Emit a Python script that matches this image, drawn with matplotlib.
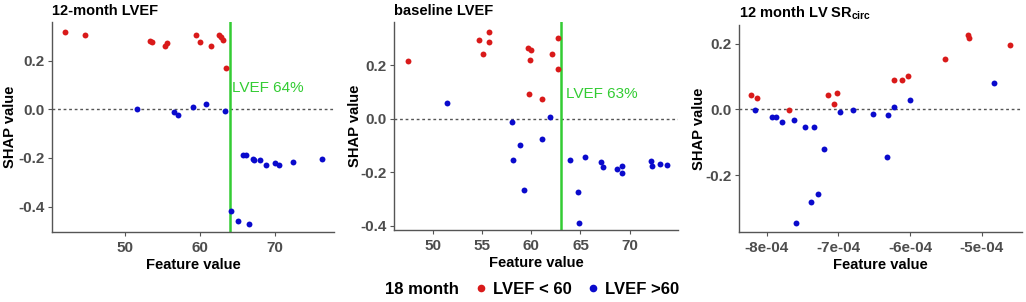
import matplotlib
matplotlib.use("Agg")
import matplotlib.pyplot as plt
from matplotlib.lines import Line2D

plt.rcParams['font.family'] = ['Liberation Sans', 'DejaVu Sans']
plt.rcParams['mathtext.default'] = 'regular'

RED = '#D91A1A'
BLUE = '#0A0ACC'
GREEN = '#33CC33'
TICK_GREY = '#4D4D4D'

# Panel 1: 12-month LVEF
p1_red_x = [41.9, 44.6, 53.3, 53.6, 55.3, 55.6, 59.4, 60.0, 61.4, 62.5, 62.8, 63.0, 63.5]
p1_red_y = [0.319, 0.305, 0.280, 0.276, 0.262, 0.273, 0.305, 0.276, 0.263, 0.305, 0.298, 0.287, 0.172]
p1_blue_x = [51.6, 56.5, 57.0, 59.0, 60.8, 63.3, 64.1, 65.1, 66.5, 65.7, 66.2, 67.1, 67.2,
             68.0, 68.8, 70.0, 70.5, 72.4, 76.3]
p1_blue_y = [0.003, -0.011, -0.022, 0.008, 0.021, -0.007, -0.419, -0.461, -0.470, -0.189, -0.189,
             -0.204, -0.207, -0.210, -0.230, -0.221, -0.230, -0.217, -0.206]
p1_cut = 64
p1_xticks = [50, 60, 70]
p1_yticks = [-0.4, -0.2, 0.0, 0.2]

# Panel 2: baseline LVEF
p2_red_x = [47.5, 54.7, 55.1, 55.7, 55.7, 59.7, 60.0, 59.9, 59.8, 61.1, 62.1, 62.7, 62.7]
p2_red_y = [0.217, 0.293, 0.241, 0.322, 0.287, 0.263, 0.256, 0.221, 0.091, 0.075, 0.241, 0.302, 0.186]
p2_blue_x = [51.5, 58.0, 58.2, 58.9, 59.3, 61.1, 61.9, 63.9, 64.7, 64.8, 65.5, 67.1, 67.3,
             68.7, 69.2, 69.2, 72.2, 72.3, 73.1, 73.8]
p2_blue_y = [0.060, -0.012, -0.152, -0.098, -0.266, -0.075, 0.006, -0.155, -0.273, -0.389, -0.144,
             -0.160, -0.181, -0.186, -0.175, -0.201, -0.159, -0.175, -0.170, -0.174]
p2_cut = 63
p2_xticks = [50, 55, 60, 65, 70]
p2_yticks = [-0.4, -0.2, 0.0, 0.2]

# Panel 3: 12 month LV SRcirc (x in units of 1e-4)
p3_red_x = [-8.214, -8.130, -7.688, -7.140, -7.056, -7.023, -6.219, -6.107, -6.033, -5.507,
            -5.186, -5.181, -4.609]
p3_red_y = [0.044, 0.034, -0.001, 0.044, 0.018, 0.049, 0.089, 0.089, 0.101, 0.155, 0.226, 0.217, 0.195]
p3_blue_x = [-8.163, -7.930, -7.874, -7.791, -7.623, -7.595, -7.470, -7.386, -7.335, -7.279,
             -7.205, -6.977, -6.791, -6.516, -6.307, -6.316, -6.228, -6.005, -4.837]
p3_blue_y = [-0.001, -0.023, -0.023, -0.038, -0.031, -0.346, -0.054, -0.281, -0.054, -0.256,
             -0.120, -0.008, -0.002, -0.013, -0.018, -0.145, 0.008, 0.029, 0.079]
p3_xticks = [-8, -7, -6, -5]
p3_xticklabels = ['-8e-04', '-7e-04', '-6e-04', '-5e-04']
p3_yticks = [-0.2, 0.0, 0.2]

titles = ['12-month LVEF', 'baseline LVEF', r'12 month LV SR$_{circ}$']
legend_title = '18 month'
legend_labels = ['LVEF < 60', 'LVEF >60']

W, H = 1026, 302
fig = plt.figure(figsize=(W / 100, H / 100), dpi=100)
fig.patch.set_facecolor('white')


def px_axes(l, t, r, b):
    return fig.add_axes([l / W, 1 - b / H, (r - l) / W, (b - t) / H])


def style(ax, title, xticks, yticks, ylab_x, xticklabels=None):
    for s in ['top', 'right']:
        ax.spines[s].set_visible(False)
    for s in ['left', 'bottom']:
        ax.spines[s].set_color('#555555')
        ax.spines[s].set_linewidth(1.0)
    ax.set_xticks(xticks)
    if xticklabels is not None:
        ax.set_xticklabels(xticklabels)
    ax.set_yticks(yticks)
    ax.set_yticklabels([f'{v:.1f}' for v in yticks])
    ax.tick_params(colors='#555555', labelcolor=TICK_GREY, labelsize=11, length=3, width=0.8, pad=2)
    ax.tick_params(axis='x', pad=3.5)
    for lab in ax.get_xticklabels() + ax.get_yticklabels():
        lab.set_fontweight('bold')
    ax.set_xlabel('Feature value', fontsize=10.6, fontweight='bold', labelpad=2)
    ax.set_ylabel('SHAP value', fontsize=10.6, fontweight='bold')
    ax.yaxis.set_label_coords(ylab_x, 0.5)
    ax.set_title(title, loc='left', fontsize=10.5, fontweight='bold', pad=5)
    ax.axhline(0, color='#555555', lw=1.0, ls=(0, (2, 2)), zorder=1)


def dots(ax, rx, ry, bx, by):
    ax.scatter(rx, ry, s=18, color=RED, zorder=3, linewidths=0)
    ax.scatter(bx, by, s=18, color=BLUE, zorder=3, linewidths=0)


ax1 = px_axes(52, 22, 334, 232)
dots(ax1, p1_red_x, p1_red_y, p1_blue_x, p1_blue_y)
ax1.axvline(p1_cut, color=GREEN, lw=1.8, zorder=2)
ax1.text(p1_cut + 0.3, 0.09, f'LVEF {p1_cut}%', color=GREEN, fontsize=11, va='center', ha='left')
ax1.set_xlim(40.2, 77.9)
ax1.set_ylim(-0.505, 0.36)
style(ax1, titles[0], p1_xticks, p1_yticks, (17.5 - 52) / 282)

ax2 = px_axes(394, 22, 678, 230)
dots(ax2, p2_red_x, p2_red_y, p2_blue_x, p2_blue_y)
ax2.axvline(p2_cut, color=GREEN, lw=1.8, zorder=2)
ax2.text(p2_cut + 0.5, 0.094, f'LVEF {p2_cut}%', color=GREEN, fontsize=11, va='center', ha='left')
ax2.set_xlim(46.07, 74.9)
ax2.set_ylim(-0.415, 0.361)
style(ax2, titles[1], p2_xticks, p2_yticks, (362 - 394) / 284)

ax3 = px_axes(739, 25, 1022, 232)
dots(ax3, p3_red_x, p3_red_y, p3_blue_x, p3_blue_y)
ax3.set_xlim(-8.386, -4.44)
ax3.set_ylim(-0.373, 0.257)
style(ax3, titles[2], p3_xticks, p3_yticks, (706 - 739) / 283, p3_xticklabels)

# legend
fig.text(385 / W, 1 - 289 / H, legend_title, fontsize=12, fontweight='bold', va='center', ha='left')
handles = [Line2D([], [], ls='', marker='o', markersize=5.5, color=RED, markeredgewidth=0),
           Line2D([], [], ls='', marker='o', markersize=5.5, color=BLUE, markeredgewidth=0)]
leg = fig.legend(handles, legend_labels, loc='center left', bbox_to_anchor=(473 / W, 1 - 289 / H),
                 ncol=2, frameon=False, handlelength=1.0, handletextpad=0.2, columnspacing=0.8,
                 prop={'weight': 'bold', 'size': 12}, borderaxespad=0, borderpad=0)

fig.savefig('out.png', dpi=100, facecolor='white')
